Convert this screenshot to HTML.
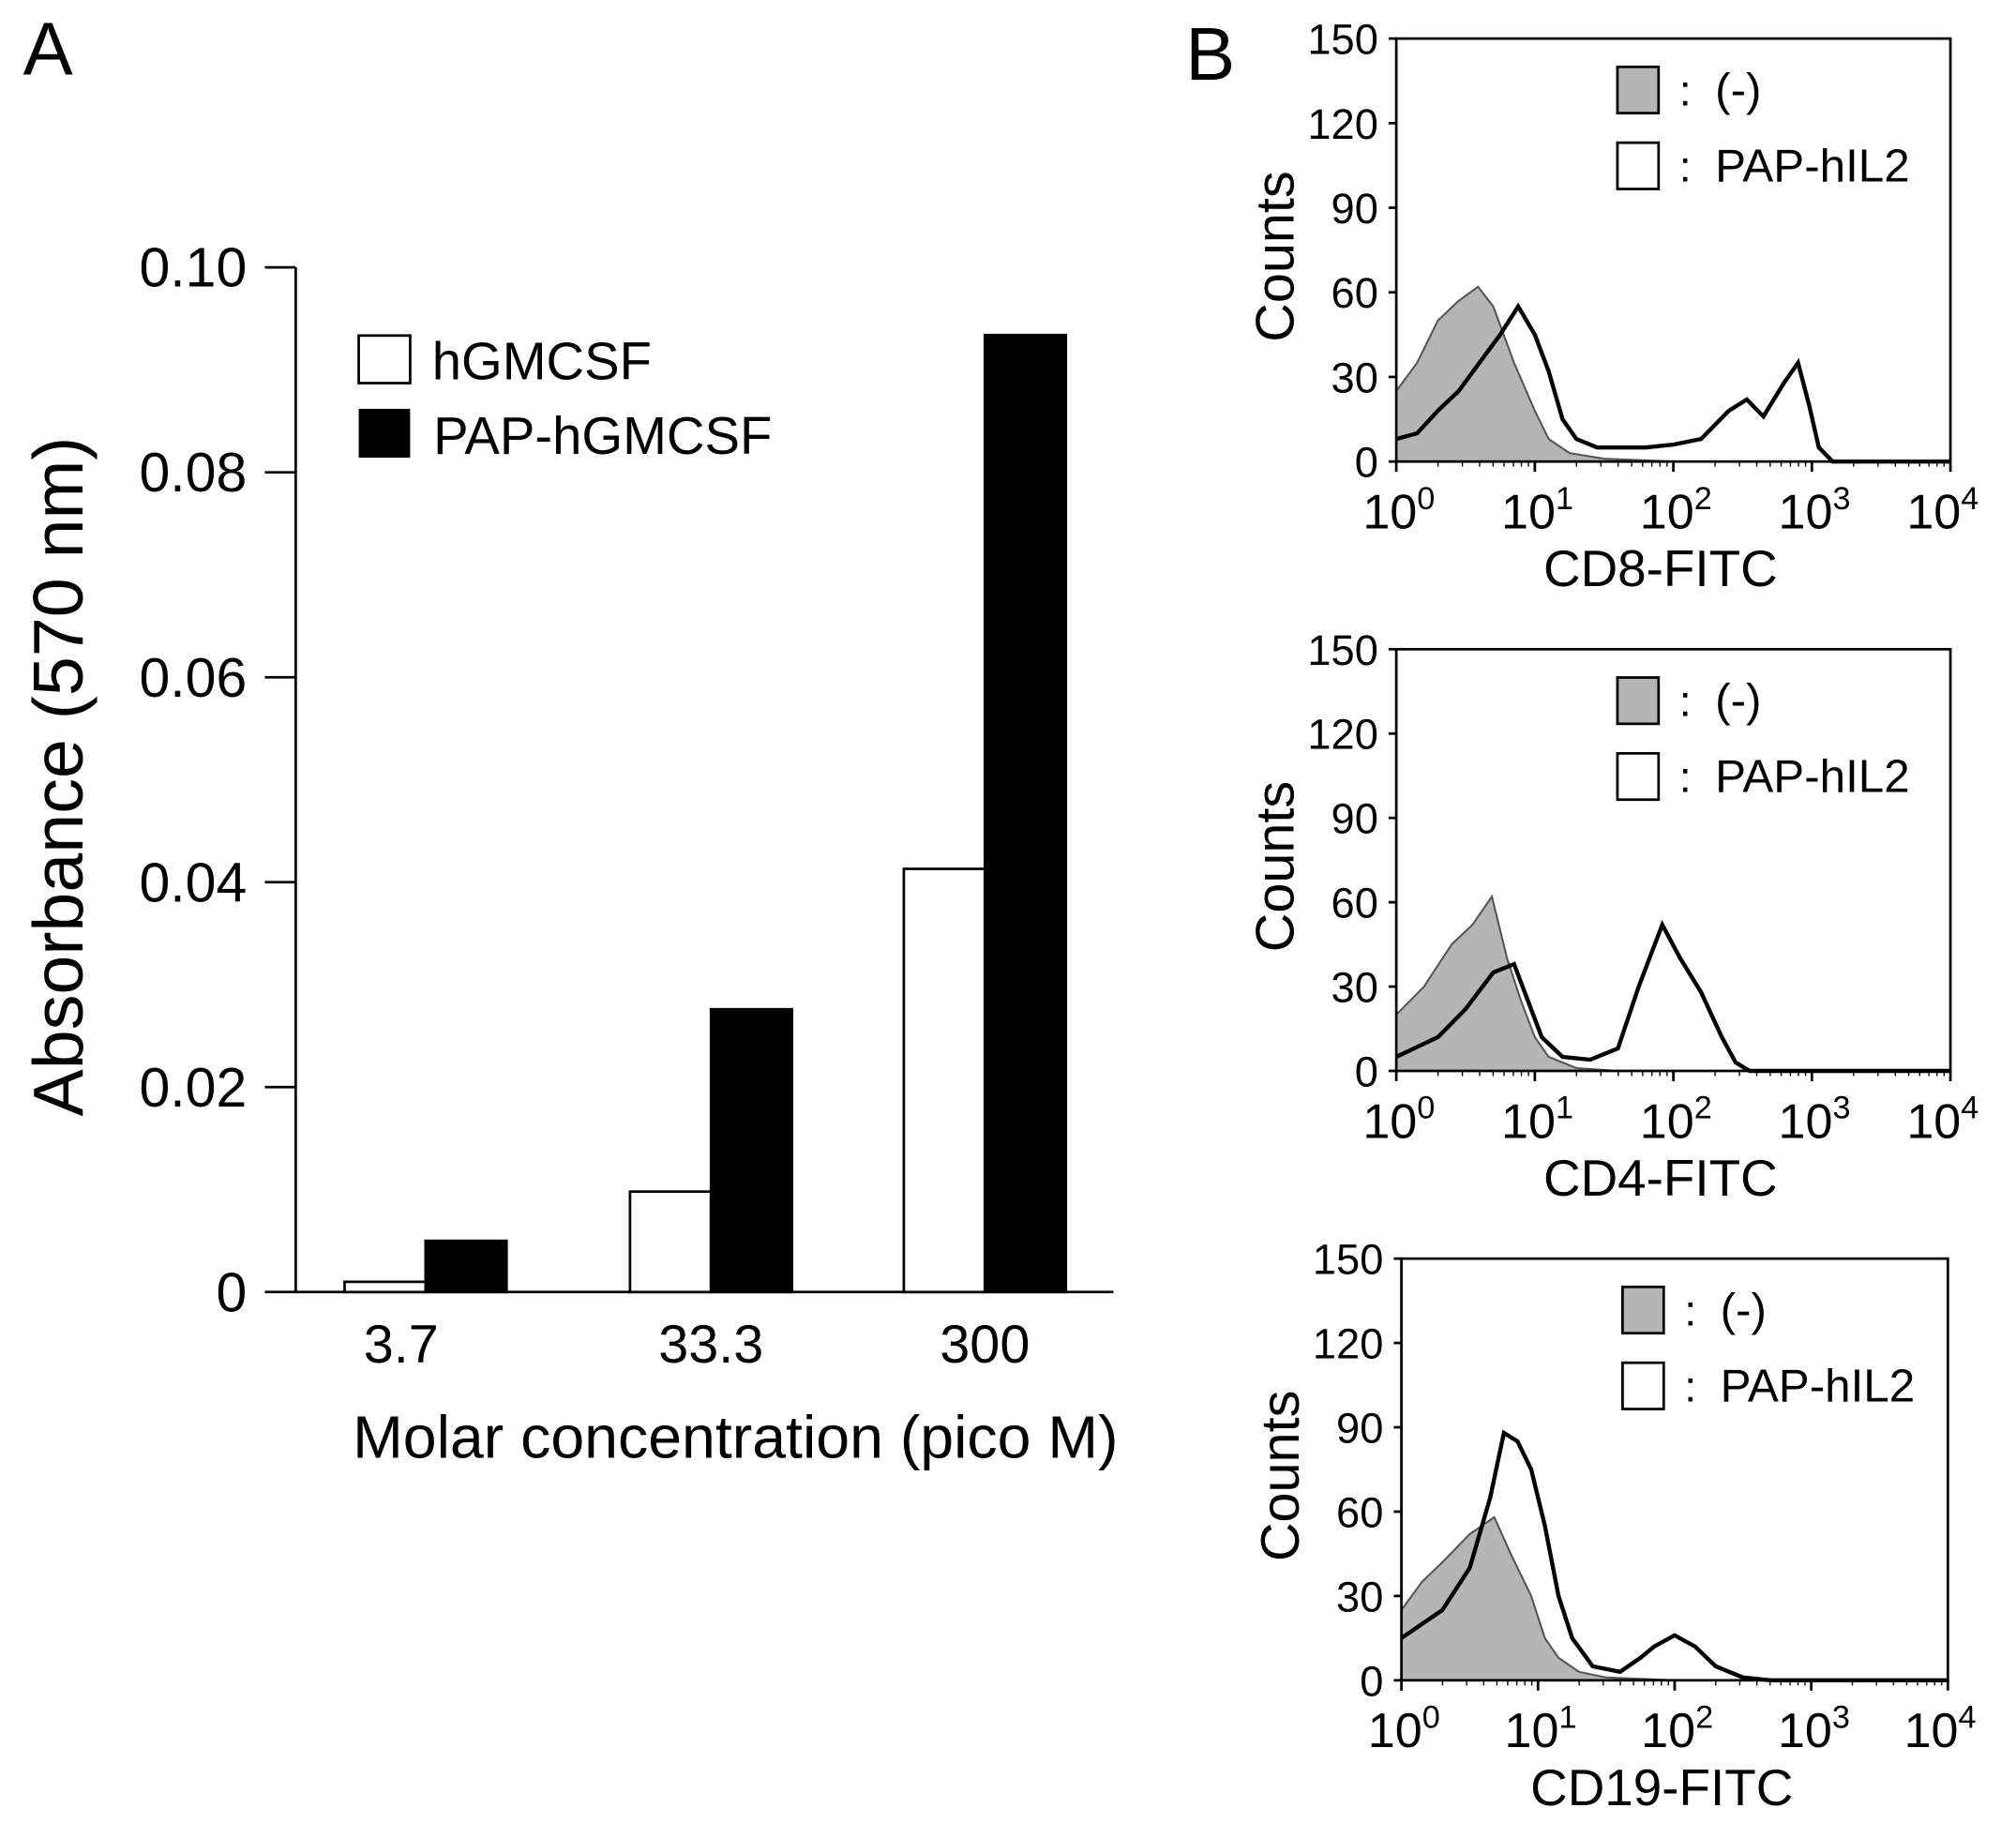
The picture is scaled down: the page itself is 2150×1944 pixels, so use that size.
<!DOCTYPE html>
<html><head><meta charset="utf-8"><style>
html,body{margin:0;padding:0;background:#fff}
svg{display:block}
text{font-family:"Liberation Sans",Arial,sans-serif;fill:#000}
</style></head><body>
<svg id="fig" width="2150" height="1944" viewBox="0 0 1568 1418" preserveAspectRatio="none" xmlns="http://www.w3.org/2000/svg">
<text x="18" y="58" font-size="58">A</text>
<text x="922" y="62" font-size="58">B</text>
<g id="chartA"></g>
<g id="chartB"></g>
</svg>
<script>
const NS='http://www.w3.org/2000/svg';
// ---- Panel A data ----
const categories=['3.7','33.3','300'];
const hgmcsf=[0.001,0.0098,0.0413];
const papHgmcsf=[0.005,0.0276,0.0934];
const yTicksA=[0,0.02,0.04,0.06,0.08,0.10];
const yTickLabelsA=['0','0.02','0.04','0.06','0.08','0.10'];

// ---- Panel B data (x = log10 fluorescence, y = counts) ----
const histTitles=['CD8-FITC','CD4-FITC','CD19-FITC'];
const cd8NegX=[0,0.15,0.3,0.45,0.59,0.7,0.85,1.0,1.1,1.25,1.5,2,4];
const cd8NegY=[25,35,50,57,62,55,35,18,8,3,1,0,0];
const cd8PapX=[0,0.15,0.3,0.45,0.6,0.75,0.88,1.0,1.1,1.2,1.3,1.45,1.8,2.0,2.2,2.4,2.53,2.65,2.8,2.9,2.98,3.05,3.15,4];
const cd8PapY=[8,10,18,25,35,45,55,45,32,15,8,5,5,6,8,18,22,16,28,35,20,5,0,0];
const cd4NegX=[0,0.2,0.4,0.55,0.69,0.8,0.9,1.0,1.1,1.3,1.6,4];
const cd4NegY=[20,30,45,52,62,40,25,12,5,1,0,0];
const cd4PapX=[0,0.3,0.5,0.7,0.85,0.95,1.05,1.2,1.4,1.6,1.75,1.92,2.05,2.2,2.35,2.45,2.55,4];
const cd4PapY=[5,12,22,35,38,25,12,5,4,8,30,52,40,28,12,3,0,0];
const cd19NegX=[0,0.15,0.3,0.5,0.68,0.8,0.95,1.05,1.15,1.3,1.5,2,4];
const cd19NegY=[25,35,42,52,58,45,30,15,8,3,1,0,0];
const cd19PapX=[0,0.15,0.3,0.5,0.65,0.75,0.85,0.95,1.05,1.15,1.25,1.4,1.6,1.75,1.85,2.0,2.15,2.3,2.5,2.7,4];
const cd19PapY=[15,20,25,40,65,88,85,75,55,30,15,5,3,8,12,16,12,5,1,0,0];
const yTicksB=[0,30,60,90,120,150];
const decades=[0,1,2,3,4];

function el(tag,attrs,parent,text){const e=document.createElementNS(NS,tag);for(const k in attrs)e.setAttribute(k,attrs[k]);if(text!==undefined)e.textContent=text;parent.appendChild(e);return e;}

// ---- Panel A ----
(function(){
const g=document.getElementById('chartA');
const x0=230,x1=866,yTop=208,yBot=1005,ymax=0.10;
const y=v=>yBot-(v/ymax)*(yBot-yTop);
const groupC=[331,553,766],bw=63;
let a=el('line',{x1:x0,y1:yTop,x2:x0,y2:yBot,stroke:'#000','stroke-width':2},g);

a=el('line',{x1:x0,y1:yBot,x2:x1,y2:yBot,stroke:'#000','stroke-width':2},g);

yTicksA.forEach((t,i)=>{
 const l=el('line',{x1:x0-24,y1:y(t),x2:x0,y2:y(t),stroke:'#000','stroke-width':2},g);
 
 const tx=el('text',{x:x0-38,y:y(t)+15,'font-size':43,'text-anchor':'end'},g,yTickLabelsA[i]);
 
});
categories.forEach((c,i)=>{
 const r1=el('rect',{x:groupC[i]-bw,y:y(hgmcsf[i]),width:bw,height:yBot-y(hgmcsf[i]),fill:'#fff',stroke:'#000','stroke-width':2},g);
 
 const r2=el('rect',{x:groupC[i],y:y(papHgmcsf[i]),width:bw,height:yBot-y(papHgmcsf[i]),fill:'#000',stroke:'#000','stroke-width':2},g);
 
 const tx=el('text',{x:groupC[i]+(i===0?-19:0),y:1060,'font-size':42,'text-anchor':'middle'},g,c);
 
});
let t=el('text',{x:572,y:1134,'font-size':47,'text-anchor':'middle'},g,'Molar concentration (pico M)');

t=el('text',{x:0,y:0,'font-size':55,'text-anchor':'middle',transform:'translate(64,604) rotate(-90)'},g,'Absorbance (570 nm)');

let r=el('rect',{x:279,y:261,width:40,height:37,fill:'#fff',stroke:'#000','stroke-width':2},g);

t=el('text',{x:336,y:295,'font-size':41},g,'hGMCSF');

r=el('rect',{x:279,y:318,width:40,height:38,fill:'#000'},g);

t=el('text',{x:337,y:353,'font-size':41},g,'PAP-hGMCSF');

})();

// ---- Panel B ----
(function(){
const g=document.getElementById('chartB');
const panels=[
 {L:1086,R:1517,T:30,B:359,negX:cd8NegX,negY:cd8NegY,papX:cd8PapX,papY:cd8PapY},
 {L:1086,R:1517,T:505,B:833,negX:cd4NegX,negY:cd4NegY,papX:cd4PapX,papY:cd4PapY},
 {L:1090,R:1515,T:979,B:1307,negX:cd19NegX,negY:cd19NegY,papX:cd19PapX,papY:cd19PapY}];
panels.forEach((p,pi)=>{
 const pg=el('g',{},g);
 
 
 const xs=v=>p.L+v/4*(p.R-p.L);
 const ys=v=>p.B-v/150*(p.B-p.T);
 let d='M'+xs(p.negX[0])+','+ys(0);
 p.negX.forEach((x,i)=>{d+=' L'+xs(x)+','+ys(p.negY[i]);});
 d+=' L'+xs(4)+','+ys(0)+' Z';
 let s=el('path',{d:d,fill:'#b5b5b5',stroke:'#555','stroke-width':1.5},pg);
 
 d='';
 p.papX.forEach((x,i)=>{d+=(i?' L':'M')+xs(x)+','+ys(p.papY[i]);});
 s=el('path',{d:d,fill:'none',stroke:'#000','stroke-width':3.2},pg);
 
 let f=el('rect',{x:p.L,y:p.T,width:p.R-p.L,height:p.B-p.T,fill:'none',stroke:'#000','stroke-width':2},pg);
 
 yTicksB.forEach(t=>{
  const l=el('line',{x1:p.L-6,y1:ys(t),x2:p.L,y2:ys(t),stroke:'#000','stroke-width':2},pg);
  
  const tx=el('text',{x:p.L-14,y:ys(t)+12,'font-size':33,'text-anchor':'end'},pg,String(t));
  
 });
 decades.forEach(k=>{
  const l=el('line',{x1:xs(k),y1:p.B,x2:xs(k),y2:p.B+8,stroke:'#000','stroke-width':2},pg);
  
  if(k<4){for(let m=2;m<10;m++){const mx=xs(k+Math.log10(m));
   const ml=el('line',{x1:mx,y1:p.B,x2:mx,y2:p.B+4,stroke:'#000','stroke-width':1},pg);
   }}
  const tx=el('text',{x:xs(k)+(k===4?-6:2),y:p.B+52,'font-size':38,'text-anchor':'middle'},pg);
  
  el('tspan',{},tx,'10');
  el('tspan',{dy:-15,'font-size':25},tx,String(k));
 });
 let t=el('text',{x:(p.L+p.R)/2-10,y:p.B+97,'font-size':40,'text-anchor':'middle'},pg,histTitles[pi]);
 
 t=el('text',{x:0,y:0,'font-size':42,'text-anchor':'middle',transform:'translate('+(p.L-80)+','+((p.T+p.B)/2+5)+') rotate(-90)'},pg,'Counts');
 
 let r=el('rect',{x:p.L+172,y:p.T+22,width:32,height:36,fill:'#b5b5b5',stroke:'#000','stroke-width':2},pg);
 
 t=el('text',{x:p.L+220,y:p.T+52,'font-size':34},pg,':');
 
 t=el('text',{x:p.L+248,y:p.T+52,'font-size':36},pg,'(-)');
 
 r=el('rect',{x:p.L+172,y:p.T+81,width:32,height:36,fill:'#fff',stroke:'#000','stroke-width':2},pg);
 
 t=el('text',{x:p.L+220,y:p.T+111,'font-size':34},pg,':');
 
 t=el('text',{x:p.L+248,y:p.T+111,'font-size':36},pg,'PAP-hIL2');
 
});
})();
</script>
</body></html>
